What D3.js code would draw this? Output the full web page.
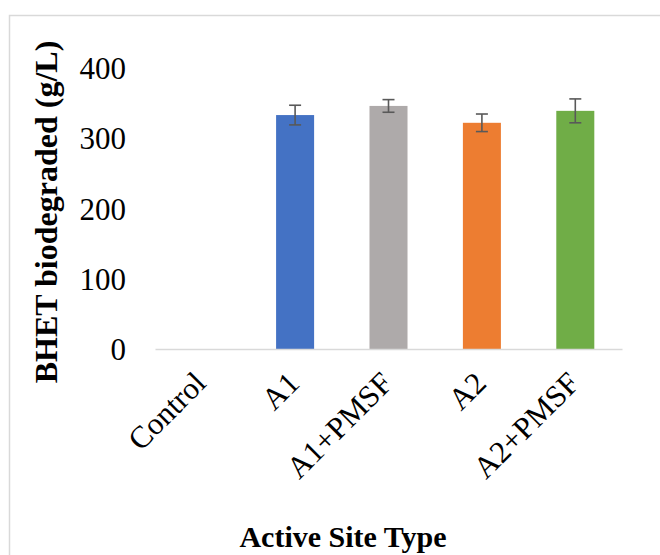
<!DOCTYPE html>
<html><head><meta charset="utf-8">
<script src="https://cdn.jsdelivr.net/npm/d3@7"></script>
<style>html,body{margin:0;padding:0;background:#fff;}svg{display:block;}</style>
</head><body>
<script>
const categories = ["Control", "A1", "A1+PMSF", "A2", "A2+PMSF"];
const values = [0, 333, 346, 322, 339];
const errors = [0, 14, 9, 12.5, 17];
const colors = ["#4472C4", "#4472C4", "#AEAAAA", "#ED7D31", "#70AD47"];
const yTicks = [0, 100, 200, 300, 400];
const yTitle = "BHET biodegraded (g/L)";
const xTitle = "Active Site Type";

const W = 660, H = 555;
const font = "'Liberation Serif','Times New Roman',serif";
const svg = d3.select("body").append("svg").attr("width", W).attr("height", H);

svg.append("rect").attr("x", 9.5).attr("y", 15.5).attr("width", 800).attr("height", 700)
  .attr("fill", "#fff").attr("stroke", "#D9D9D9").attr("stroke-width", 1.5);

const x = d3.scaleBand().domain(categories).range([155, 622]).paddingInner(0.593).paddingOuter(0.2965);
const y = d3.scaleLinear().domain([0, 400]).range([349, 68]);

// bars
svg.selectAll("rect.bar").data(categories).enter().append("rect")
  .attr("class", "bar")
  .attr("x", d => x(d))
  .attr("width", x.bandwidth())
  .attr("y", (d, i) => y(values[i]))
  .attr("height", (d, i) => y(0) - y(values[i]))
  .attr("fill", (d, i) => colors[i]);

// x axis line
const xAxis = d3.axisBottom(x).tickSize(0).tickFormat("");
const gx = svg.append("g").attr("transform", `translate(0,${y(0)})`).call(xAxis);
gx.select(".domain").attr("stroke", "#D9D9D9").attr("stroke-width", 1.5);

// error bars
const eb = svg.append("g").attr("stroke", "#595959").attr("stroke-width", 1.6).attr("fill", "none");
categories.forEach((c, i) => {
  if (values[i] === 0) return;
  const cx = x(c) + x.bandwidth() / 2;
  const top = y(values[i] + errors[i]), bot = y(values[i] - errors[i]);
  eb.append("line").attr("x1", cx).attr("x2", cx).attr("y1", top).attr("y2", bot);
  eb.append("line").attr("x1", cx - 6).attr("x2", cx + 6).attr("y1", top).attr("y2", top);
  eb.append("line").attr("x1", cx - 6).attr("x2", cx + 6).attr("y1", bot).attr("y2", bot);
});

// y axis labels
const yAxis = d3.axisLeft(y).tickValues(yTicks).tickSize(0).tickPadding(0);
const gy = svg.append("g").attr("transform", "translate(126,0)").call(yAxis);
gy.select(".domain").remove();
gy.selectAll("text").attr("font-family", font).attr("font-size", 31).attr("fill", "#000")
  .attr("x", 0).attr("dy", "0.34em");

// x labels rotated
svg.append("g").selectAll("text").data(categories).enter().append("text")
  .attr("transform", d => `translate(${x(d) + x.bandwidth() / 2 + 6},385) rotate(-45)`)
  .attr("text-anchor", "end")
  .attr("font-family", font).attr("font-size", 31).attr("fill", "#000")
  .text(d => d);

// titles
svg.append("text").attr("transform", "translate(57,212) rotate(-90)")
  .attr("text-anchor", "middle").attr("font-family", font).attr("font-weight", "bold")
  .attr("font-size", 32).attr("fill", "#000").text(yTitle);
svg.append("text").attr("x", 343).attr("y", 547)
  .attr("text-anchor", "middle").attr("font-family", font).attr("font-weight", "bold")
  .attr("font-size", 30).attr("fill", "#000").text(xTitle);
</script>
</body></html>
